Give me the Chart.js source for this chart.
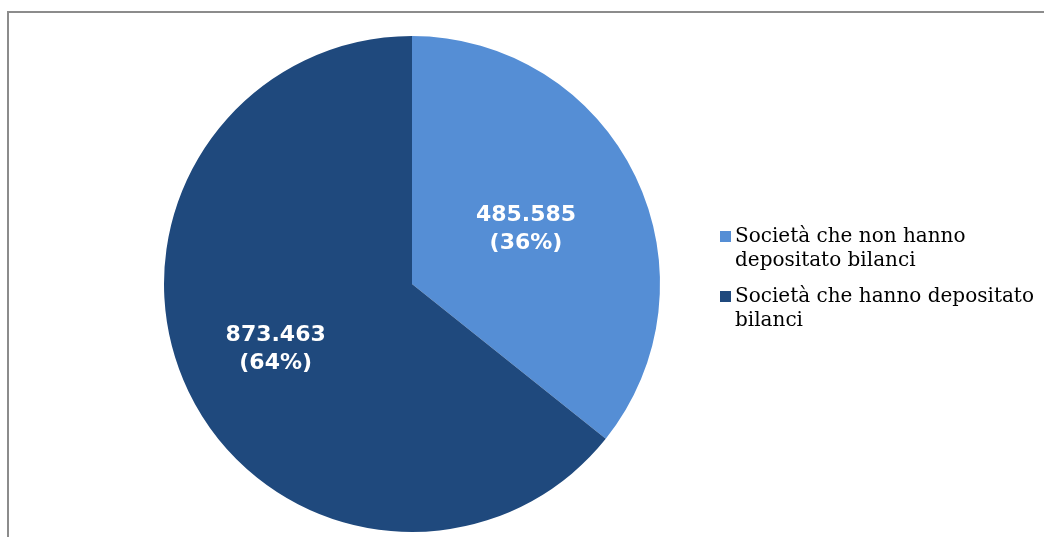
<!DOCTYPE html>
<html>
<head>
<meta charset="utf-8">
<script src="https://cdn.jsdelivr.net/npm/chart.js@4"></script>
<style>
  html, body { margin: 0; padding: 0; background: #fff; }
  #wrap { position: relative; width: 1044px; height: 537px; overflow: hidden; }
  #frame { position: absolute; left: 7px; top: 11px; width: 1100px; height: 600px;
           border-left: 2px solid #8c8c8c; border-top: 2px solid #8c8c8c; }
  #chart { position: absolute; left: 0; top: 0; }
</style>
</head>
<body>
<div id="wrap">
  <div id="frame"></div>
  <canvas id="chart" width="1044" height="537"></canvas>
</div>
<script>
const categories = [
  ["Società che non hanno", "depositato bilanci"],
  ["Società che hanno depositato", "bilanci"]
];
const values = [485585, 873463];
const valueLabels = ["485.585", "873.463"];
const percentLabels = ["(36%)", "(64%)"];
const colors = ["#558ed5", "#1f497d"];

// where along the radius each value label sits
const labelRadius = [0.51, 0.61];

const sliceLabels = {
  id: "sliceLabels",
  afterDatasetsDraw(chart) {
    const ctx = chart.ctx;
    const arcs = chart.getDatasetMeta(0).data;
    ctx.save();
    ctx.fillStyle = "#ffffff";
    ctx.font = "bold 22px 'DejaVu Sans'";
    ctx.textAlign = "center";
    ctx.textBaseline = "middle";
    arcs.forEach((arc, i) => {
      const mid = (arc.startAngle + arc.endAngle) / 2;
      const r = arc.outerRadius * labelRadius[i];
      const x = arc.x + Math.cos(mid) * r;
      const y = arc.y + Math.sin(mid) * r;
      ctx.fillText(valueLabels[i], x, y - 14);
      ctx.fillText(percentLabels[i], x, y + 14);
    });
    ctx.restore();
  }
};

// legend on the right, each entry wrapped on two lines
const sideLegend = {
  id: "sideLegend",
  afterDraw(chart) {
    const ctx = chart.ctx;
    const x = 720, lineH = 24;
    let y = 237;
    ctx.save();
    ctx.font = "20px 'DejaVu Serif', serif";
    ctx.textBaseline = "middle";
    ctx.textAlign = "left";
    categories.forEach((lines, i) => {
      ctx.fillStyle = colors[i];
      ctx.fillRect(x, y - 6, 11, 11);
      ctx.fillStyle = "#000000";
      lines.forEach((t, j) => ctx.fillText(t, x + 15, y + j * lineH));
      y += lineH * 2 + 12;
    });
    ctx.restore();
  }
};

new Chart(document.getElementById("chart").getContext("2d"), {
  type: "pie",
  data: {
    labels: categories.map(c => c.join(" ")),
    datasets: [{
      data: values,
      backgroundColor: colors,
      borderWidth: 0
    }]
  },
  options: {
    responsive: false,
    animation: false,
    layout: { padding: { left: 164, right: 384, top: 36, bottom: 5 } },
    plugins: {
      legend: { display: false },
      tooltip: { enabled: false }
    }
  },
  plugins: [sliceLabels, sideLegend]
});
</script>
</body>
</html>
